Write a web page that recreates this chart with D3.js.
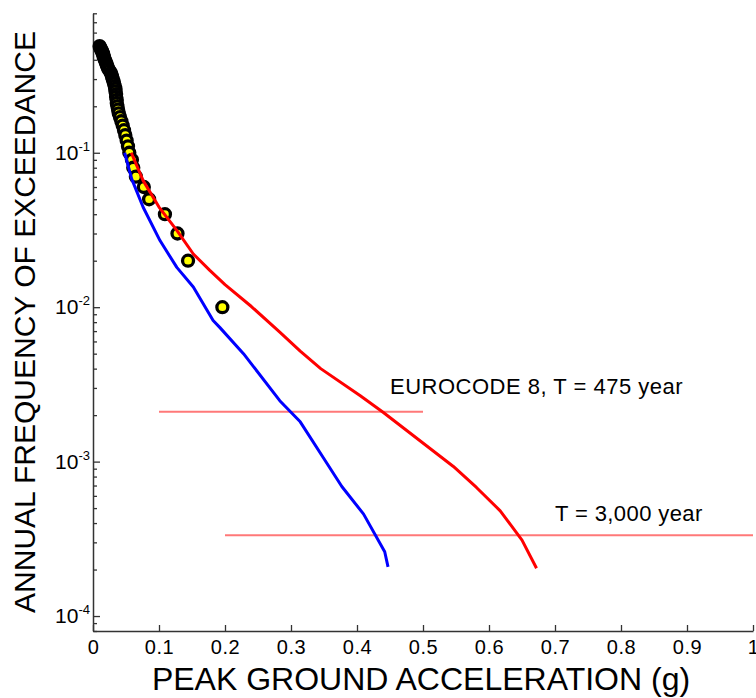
<!DOCTYPE html>
<html><head><meta charset="utf-8">
<script src="https://cdn.jsdelivr.net/npm/d3@7"></script>
<style>
body{margin:0;background:#fff}
svg{display:block}
text{font-family:Arial,"Liberation Sans",Helvetica,sans-serif;fill:#000}
</style>
</head><body>
<svg id="chart" width="756" height="698"></svg>
<script>
// Observed exceedance data (PGA in g, annual frequency)
const obsFreq = [0.49,0.48,0.47,0.46,0.45,0.44,0.43,0.42,0.41,0.40,0.39,0.38,0.37,0.36,0.35,0.34,0.33,0.32,0.31,0.30,0.29,0.28,0.27,0.26,0.25,0.24,0.23,0.22,0.21,0.20,0.19,0.18,0.17,0.16,0.15,0.14,0.13,0.12,0.11,0.10,0.09,0.08,0.07,0.06,0.05,0.04,0.03,0.02,0.01];
const obsPGA  = [0.010,0.011,0.012,0.013,0.014,0.015,0.016,0.016,0.017,0.018,0.019,0.020,0.021,0.022,0.023,0.025,0.027,0.028,0.029,0.030,0.031,0.032,0.033,0.034,0.034,0.035,0.035,0.036,0.036,0.037,0.038,0.039,0.041,0.043,0.045,0.047,0.049,0.051,0.053,0.055,0.059,0.061,0.065,0.077,0.085,0.109,0.128,0.144,0.196];

// Red hazard curve
const redPGA  = [0.058,0.076,0.100,0.127,0.152,0.177,0.200,0.240,0.283,0.314,0.345,0.405,0.440,0.546,0.581,0.617,0.650,0.672];
const redFreq = [0.100,0.066,0.0445,0.0314,0.0221,0.0173,0.0140,0.0101,0.0069,0.0052,0.0040,0.00267,0.00208,0.00093,0.00068,0.00048,0.00031,0.000204];

// Blue hazard curve
const bluePGA  = [0.048,0.0586,0.076,0.1015,0.127,0.152,0.182,0.192,0.228,0.283,0.314,0.349,0.377,0.410,0.442,0.447];
const blueFreq = [0.100,0.0678,0.0444,0.0270,0.0181,0.0135,0.0082,0.0074,0.0050,0.00248,0.00181,0.00106,0.00069,0.000457,0.000261,0.000208];

// Reference return periods
const refPeriods = [475, 3000];
const refStart = [0.1, 0.2];
const refEnd = [0.5, 1.0];
const refLabels = ["EUROCODE 8, T = 475 year", "T = 3,000 year"];

// Ticks
const xTicks = [0,0.1,0.2,0.3,0.4,0.5,0.6,0.7,0.8,0.9,1];
const xTickLabels = ["0","0.1","0.2","0.3","0.4","0.5","0.6","0.7","0.8","0.9","1"];
const yMajor = [1e-4,1e-3,1e-2,1e-1];
const yMajorExp = ["-4","-3","-2","-1"];

const xTitle = "PEAK GROUND ACCELERATION (g)";
const yTitle = "ANNUAL FREQUENCY OF EXCEEDANCE";

const svg = d3.select("#chart");
const x = d3.scaleLinear().domain([0,1]).range([93,753]);
const y = d3.scaleLog().domain([8e-5,0.8]).range([631,13.3]);

const axisColor = "#333";

// minor y ticks
const yMinor = [];
[-5,-4,-3,-2,-1].forEach(k => { for (let m=2;m<=9;m++){ const v=m*Math.pow(10,k); if (v>=8e-5-1e-12 && v<=0.8+1e-9) yMinor.push(v);} });

// Y axis
const gy = svg.append("g").attr("transform",`translate(${x(0)},0)`);
gy.call(d3.axisLeft(y).tickValues(yMinor).tickSize(-4).tickSizeOuter(0).tickFormat(""));
gy.call(g=>g.selectAll(".tick line").attr("stroke",axisColor).attr("stroke-width",1.3));
gy.select(".domain").attr("stroke",axisColor).attr("stroke-width",1.5);
const gyMaj = svg.append("g").attr("transform",`translate(${x(0)},0)`);
gyMaj.call(d3.axisLeft(y).tickValues(yMajor).tickSize(-7).tickSizeOuter(0).tickFormat(""));
gyMaj.select(".domain").remove();
gyMaj.selectAll(".tick line").attr("stroke",axisColor).attr("stroke-width",1.3);

yMajor.forEach((v,i)=>{
  const t = svg.append("text").attr("x",x(0)-3).attr("y",y(v)+7)
    .attr("text-anchor","end").style("font-size","21px");
  t.append("tspan").text("10");
  t.append("tspan").attr("dy",-9).style("font-size","13px").text(yMajorExp[i]);
});

// X axis
const gx = svg.append("g").attr("transform",`translate(0,${y(8e-5)})`);
gx.call(d3.axisBottom(x).tickValues(xTicks).tickSize(-6).tickSizeOuter(0).tickFormat((d,i)=>xTickLabels[i]).tickPadding(9));
gx.select(".domain").attr("stroke",axisColor).attr("stroke-width",1.5);
gx.selectAll(".tick line").attr("stroke",axisColor).attr("stroke-width",1.3);
gx.selectAll(".tick text").attr("fill","#000").style("font-size","20px").style("letter-spacing","0.6px").style("font-family","Arial,'Liberation Sans',sans-serif");

// Titles
svg.append("text").attr("x",421).attr("y",690).attr("text-anchor","middle")
  .style("font-size","32px").text(xTitle);
svg.append("text").attr("transform","translate(35,322) rotate(-90)").attr("text-anchor","middle")
  .style("font-size","30px").text(yTitle);

// Reference lines
refPeriods.forEach((T,i)=>{
  svg.append("line").attr("x1",x(refStart[i])).attr("x2",x(refEnd[i]))
    .attr("y1",y(1/T)).attr("y2",y(1/T)).attr("stroke","#ff7878").attr("stroke-width",2);
});
svg.append("text").attr("x",x(0.45)).attr("y",y(1/refPeriods[0])-18)
  .style("font-size","22px").style("letter-spacing","0.5px").text(refLabels[0]);
svg.append("text").attr("x",x(0.70)).attr("y",y(1/refPeriods[1])-14)
  .style("font-size","22px").style("letter-spacing","0.4px").text(refLabels[1]);

// Observed points
const obs = obsPGA.map((p,i)=>({p, f:obsFreq[i]}));
svg.append("g").selectAll("circle").data(obs).join("circle")
  .attr("cx",d=>x(d.p)).attr("cy",d=>y(d.f)).attr("r",5.5)
  .attr("fill","#ffff00").attr("stroke","#000").attr("stroke-width",3.3);

// Curves
const line = d3.line().x(d=>x(d[0])).y(d=>y(d[1]));
svg.append("path").datum(bluePGA.map((p,i)=>[p,blueFreq[i]]))
  .attr("d",line).attr("fill","none").attr("stroke","#0000ff").attr("stroke-width",3).attr("stroke-linejoin","round");
svg.append("path").datum(redPGA.map((p,i)=>[p,redFreq[i]]))
  .attr("d",line).attr("fill","none").attr("stroke","#ff0000").attr("stroke-width",3).attr("stroke-linejoin","round");
</script>
</body></html>
